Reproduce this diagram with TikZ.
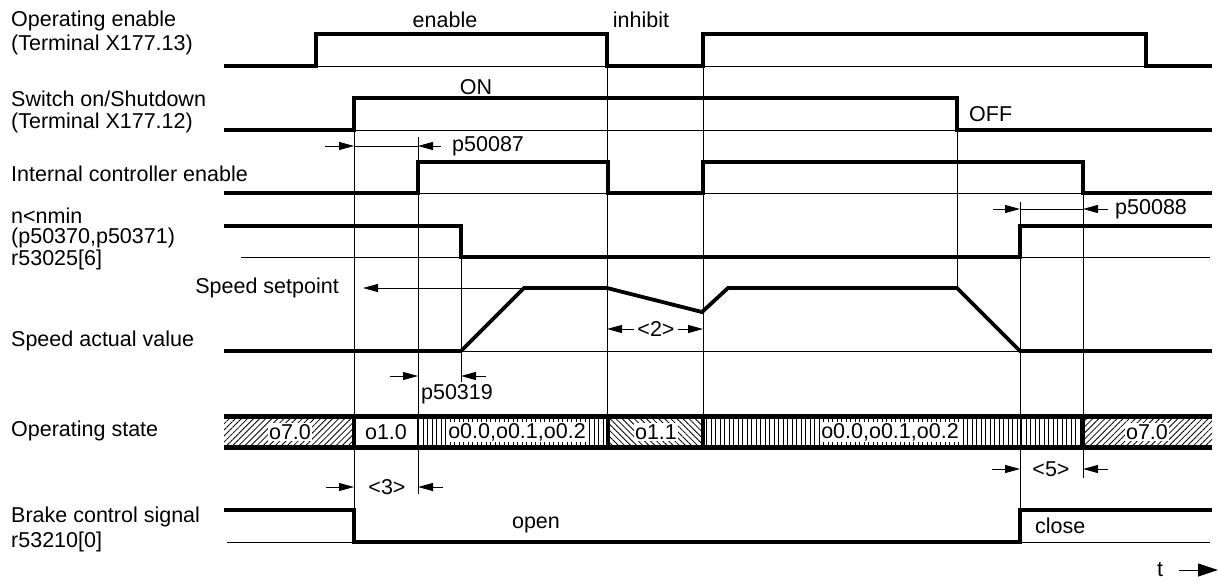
\documentclass[tikz,border=0pt]{standalone}
\usepackage{fontspec}
\setmainfont{Liberation Sans}
\usetikzlibrary{arrows.meta,patterns.meta}
\begin{document}
\begin{tikzpicture}[x=1pt,y=-1pt,
  sig/.style={line width=3.8pt, line join=miter, line cap=rect},
  thinl/.style={line width=1pt},
  sep/.style={line width=4pt},
  lbl/.style={anchor=west, inner sep=0pt, font=\fontsize{21.5}{24}\selectfont},
  txt/.style={inner sep=0pt, font=\fontsize{21.5}{24}\selectfont},
  stt/.style={inner sep=1.5pt, fill=white, font=\fontsize{21.5}{24}\selectfont},
  dim/.style={line width=1pt, -{Triangle[length=15pt,width=8pt]}},
  hne/.style={pattern={Lines[angle=45,distance=4.3pt,line width=0.8pt]}},
  hnw/.style={pattern={Lines[angle=-45,distance=4.3pt,line width=0.8pt]}},
  hv/.style={pattern={Lines[angle=90,distance=4.5pt,line width=0.8pt]}},
]
\useasboundingbox (0,0) rectangle (1219,581);

% ---------- left labels ----------
\node[lbl] (l1a) at (11,21) {Operating enable};
\node[lbl] (l1b) at (11,45) {(Terminal X177.13)};
\node[lbl] (l2a) at (11,99) {Switch on/Shutdown};
\node[lbl] (l2b) at (11,123) {(Terminal X177.12)};
\node[lbl] (l3) at (11,174) {Internal controller enable};
\node[lbl] (l4a) at (11,216) {n<nmin};
\node[lbl] (l4b) at (11,238) {(p50370,p50371)};
\node[lbl] (l4c) at (11,260) {r53025[6]};
\node[txt,anchor=east] (l5) at (339,288) {Speed setpoint};
\node[lbl] (l6) at (11,341) {Speed actual value};
\node[lbl] (l7) at (11,431) {Operating state};
\node[lbl] (l8a) at (11,517) {Brake control signal};
\node[lbl] (l8b) at (11,542) {r53210[0]};

% ---------- thin reference lines ----------
\draw[thinl] (316,66) -- (607,66);
\draw[thinl] (703,66) -- (1146,66);
\draw[thinl] (354,130) -- (957,130);
\draw[thinl] (418,193) -- (608,193);
\draw[thinl] (703,193) -- (1083,193);
\draw[thinl] (241,257) -- (461,257);
\draw[thinl] (1020,257) -- (1210,257);
\draw[thinl] (461,351) -- (1020,351);
\draw[thinl] (227,542) -- (354,542);
\draw[thinl] (1020,542) -- (1210,542);

% ---------- vertical thin lines ----------
\draw[thinl] (354,130) -- (354,542);
\draw[thinl] (418,137) -- (418,494);
\draw[thinl] (461,257) -- (461,382);
\draw[thinl] (607,66) -- (607,416);
\draw[thinl] (703,66) -- (703,416);
\draw[thinl] (957,130) -- (957,288);
\draw[thinl] (1020,202) -- (1020,542);
\draw[thinl] (1083,193) -- (1083,478);

% ---------- signals ----------
\draw[sig] (226,66) -- (316,66) -- (316,34) -- (607,34) -- (607,66) -- (703,66) -- (703,34) -- (1146,34) -- (1146,66) -- (1210,66);
\draw[sig] (226,130) -- (354,130) -- (354,98) -- (957,98) -- (957,130) -- (1210,130);
\draw[sig] (226,193) -- (418,193) -- (418,162) -- (608,162) -- (608,193) -- (703,193) -- (703,162) -- (1083,162) -- (1083,193) -- (1210,193);
\draw[sig] (226,226) -- (461,226) -- (461,257) -- (1020,257) -- (1020,226) -- (1210,226);
\draw[sig] (226,351) -- (461,351) -- (524,288) -- (607,288) -- (702,312) -- (728,288) -- (957,288) -- (1020,351) -- (1210,351);
\draw[sig] (226,510) -- (354,510) -- (354,542) -- (1020,542) -- (1020,510) -- (1210,510);

% setpoint arrow
\draw[dim] (607,288) -- (363,288);

% ---------- signal texts ----------
\node[txt] (ten) at (445,20) {enable};
\node[txt] (tin) at (641,20) {inhibit};
\node[txt] (ton) at (476,87) {ON};
\node[txt,anchor=west] (toff) at (969,114) {OFF};
\node[txt] (topen) at (536,525) {open};
\node[txt,anchor=west] (tclose) at (1035,526) {close};

% ---------- dimensions ----------
\draw[dim] (325,146) -- (354,146);
\draw[thinl] (354,146) -- (418,146);
\draw[dim] (441,146) -- (418,146);
\node[txt,anchor=west] (p87) at (452,146) {p50087};

\draw[dim] (993,209) -- (1020,209);
\draw[thinl] (1020,209) -- (1083,209);
\draw[dim] (1108,209) -- (1083,209);
\node[txt,anchor=west] (p88) at (1115,209) {p50088};

\draw[dim] (390,376) -- (418,376);
\draw[dim] (486,376) -- (461,376);
\node[txt] (p319) at (457,394) {p50319};

\node[txt] (d2) at (656,329) {<2>};
\draw[dim] (634,329) -- (607,329);
\draw[dim] (678,329) -- (703,329);

\draw[dim] (326,487) -- (354,487);
\node[txt] (d3) at (387,487) {<3>};
\draw[dim] (443,487) -- (418,487);

\draw[dim] (992,469) -- (1020,469);
\node[txt] (d5) at (1051,469) {<5>};
\draw[dim] (1108,469) -- (1083,469);

% ---------- operating state bar ----------
\fill[hne] (224,416) rectangle (354,447);
\fill[hv] (418,416) rectangle (608,447);
\fill[hnw] (608,416) rectangle (703,447);
\fill[hv] (703,416) rectangle (1083,447);
\fill[hne] (1083,416) rectangle (1212,447);
\node[stt] (s1) at (290,432) {o7.0};
\node[stt] (s2) at (386,432) {o1.0};
\node[stt] (s3) at (517,432) {o0.0,o0.1,o0.2};
\node[stt] (s4) at (656,432) {o1.1};
\node[stt] (s5) at (890,432) {o0.0,o0.1,o0.2};
\node[stt] (s6) at (1147,432) {o7.0};
\draw[line width=5pt] (224,416) -- (1212,416);
\draw[line width=5pt] (224,447) -- (1212,447);
\draw[sep] (354,416) -- (354,447);
\draw[line width=2.5pt] (418,416) -- (418,447);
\draw[sep] (608,416) -- (608,447);
\draw[sep] (703,416) -- (703,447);
\draw[sep] (1083,416) -- (1083,447);

% ---------- time arrow ----------
\node[txt] (tt) at (1160,570) {t};
\coordinate (ta) at (1179,570);
\coordinate (tb) at (1218,570);
\draw[line width=1pt, -{Triangle[length=20pt,width=13pt]}] (ta) -- (tb);
\end{tikzpicture}
\end{document}
